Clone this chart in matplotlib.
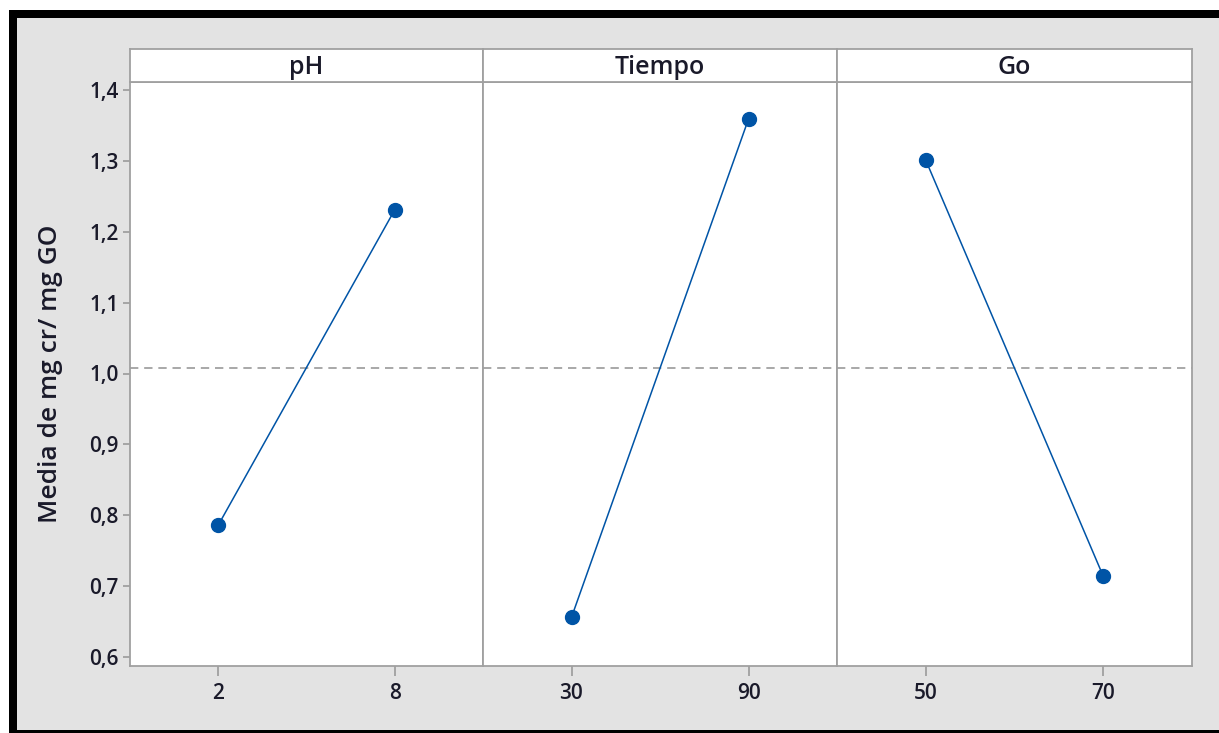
import numpy as np
import matplotlib
matplotlib.use("Agg")
import matplotlib.pyplot as plt
from matplotlib.patches import Rectangle

# Main effects: mean response at each factor level
factors = ["pH", "Tiempo", "Go"]
level_labels = [["2", "8"], ["30", "90"], ["50", "70"]]
ph_means = [0.786, 1.231]
tiempo_means = [0.656, 1.359]
go_means = [1.301, 0.714]
y_ticks = [0.6, 0.7, 0.8, 0.9, 1.0, 1.1, 1.2, 1.3, 1.4]
y_label = "Media de mg cr/ mg GO"

series = [ph_means, tiempo_means, go_means]
grand_mean = np.mean([np.mean(s) for s in series])

plt.rcParams['font.family'] = ['Open Sans', 'DejaVu Sans']

W, H = 1219, 733
fig = plt.figure(figsize=(W / 100, H / 100), dpi=100, facecolor="white")


def fbox(x0, y0, x1, y1):
    """Pixel box (top-left origin) -> figure-fraction rect."""
    return [x0 / W, 1 - y1 / H, (x1 - x0) / W, (y1 - y0) / H]


# Frame: gray canvas with black border at top, left and bottom
bg = "#e3e3e3"
for (x0, y0, x1, y1, c) in [
    (17, 18, W, 730, bg),
    (9, 10, W, 18, "black"),
    (9, 10, 17, H, "black"),
    (9, 730, W, H, "black"),
]:
    l, b, w, h = fbox(x0, y0, x1, y1)
    fig.patches.append(Rectangle((l, b), w, h, transform=fig.transFigure,
                                 facecolor=c, edgecolor="none", zorder=-5))

spine_c = "#a0a0a0"
line_c = "#0054a6"
text_c = "#1a1a2a"
edges = [130, 483, 837, 1192]
plot_top, plot_bot, head_top = 82, 666, 49
ylim = (0.6 - 9 / 708.75, 1.4 + 8 / 708.75)

axes = []
for i, (name, labels, vals) in enumerate(zip(factors, level_labels, series)):
    ax = fig.add_axes(fbox(edges[i], plot_top, edges[i + 1], plot_bot))
    ax.set_facecolor("white")
    x = np.arange(len(vals))
    ax.axhline(grand_mean, color="#9a9a9a", lw=1.2, ls=(0, (5, 3.5)), zorder=1)
    ax.plot(x, vals, color=line_c, lw=1.1, marker="o", ms=10,
            mec=line_c, mfc=line_c, zorder=3)
    ax.set_xlim(-0.5, 1.5)
    ax.set_ylim(*ylim)
    ax.set_xticks(x)
    ax.set_xticklabels(labels, fontweight="semibold")
    for s in ax.spines.values():
        s.set_color(spine_c)
        s.set_linewidth(1.3)
    ax.tick_params(axis="x", length=7, width=1.3, color=spine_c, pad=5,
                   labelsize=15, labelcolor=text_c)
    if i == 0:
        ax.set_yticks(y_ticks)
        ax.set_yticklabels([f"{t:.1f}".replace(".", ",") for t in y_ticks],
                           fontweight="semibold")
        ax.tick_params(axis="y", length=5, width=1.3, color=spine_c, pad=3,
                       labelsize=15, labelcolor=text_c)
        ax.set_ylabel(y_label, fontsize=19, color=text_c,
                      fontweight="semibold")
        ax.yaxis.set_label_coords(-0.19, 0.5)
    else:
        ax.set_yticks([])
    axes.append(ax)

    # Factor header strip
    hx = fig.add_axes(fbox(edges[i], head_top, edges[i + 1], plot_top))
    hx.set_facecolor("white")
    hx.set_xticks([])
    hx.set_yticks([])
    for s in hx.spines.values():
        s.set_color(spine_c)
        s.set_linewidth(1.3)
    hx.text(0.5, 0.45, name, ha="center", va="center", fontsize=18,
            fontweight="semibold", color=text_c, transform=hx.transAxes)

fig.savefig("out.png", dpi=100, facecolor=fig.get_facecolor())
